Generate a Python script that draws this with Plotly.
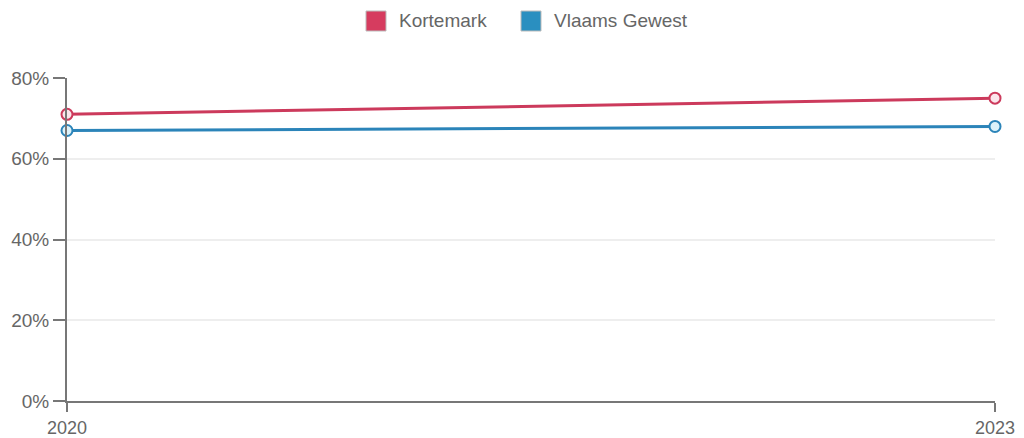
import plotly.graph_objects as go

years = ["2020", "2023"]
kortemark = [71, 75]
vlaams = [67, 68]
y_ticks = [0, 20, 40, 60, 80]
y_labels = ["0%", "20%", "40%", "60%", "80%"]

series = [
    ("Kortemark", kortemark, "#cc3a5c", "#fbe6ec", "#d63c5f"),
    ("Vlaams Gewest", vlaams, "#2b84b9", "#dcf2fa", "#2a8fc0"),
]

W, H = 1024, 438
L, R, T, B = 67, 29, 78, 37
FONT = "Liberation Sans, Arial, Helvetica, sans-serif"
TXT = "#666666"


def px_x(p):
    return (p - L) / (W - L - R)


def px_y(p):
    return (H - B - p) / (H - T - B)


fig = go.Figure()
for name, vals, col, fill, _ in series:
    fig.add_trace(go.Scatter(
        x=years, y=vals, mode="lines+markers", name=name, showlegend=False,
        line=dict(color=col, width=3),
        marker=dict(size=11, color=fill, line=dict(color=col, width=2)),
        cliponaxis=False,
    ))

# legend drawn as swatches + labels centred above the plot
shapes, annotations = [], []
legend_items = [(366, 397), (521, 552)]
for (sx, tx), (name, _, _, _, swatch) in zip(legend_items, series):
    shapes.append(dict(
        type="rect", xref="paper", yref="paper",
        x0=px_x(sx), x1=px_x(sx + 20), y0=px_y(31), y1=px_y(11),
        fillcolor=swatch, line=dict(color="#bbbbbb", width=1), layer="above",
    ))
    annotations.append(dict(
        text=name, xref="paper", yref="paper", x=px_x(tx), y=px_y(21),
        xanchor="left", yanchor="middle", showarrow=False,
        font=dict(family=FONT, size=19, color=TXT),
    ))

axis_common = dict(
    showline=True, linecolor="#777777", linewidth=2,
    ticks="outside", tickcolor="#777777", tickwidth=2, automargin=False,
)

fig.update_layout(
    width=W, height=H,
    margin=dict(l=L, r=R, t=T, b=B, autoexpand=False),
    paper_bgcolor="white", plot_bgcolor="white",
    font=dict(family=FONT, size=19, color=TXT),
    showlegend=False,
    shapes=shapes, annotations=annotations,
    xaxis=dict(type="category", range=[0, 1], showgrid=False, ticklen=9,
               tickfont=dict(family=FONT, size=18, color=TXT), **axis_common),
    yaxis=dict(
        range=[0, 80], tickvals=y_ticks, ticktext=y_labels,
        showgrid=True, gridcolor="#eeeeee", gridwidth=1.5, zeroline=False,
        ticklen=12, tickfont=dict(family=FONT, size=19, color=TXT), **axis_common,
    ),
)

fig.write_html("out.html")
